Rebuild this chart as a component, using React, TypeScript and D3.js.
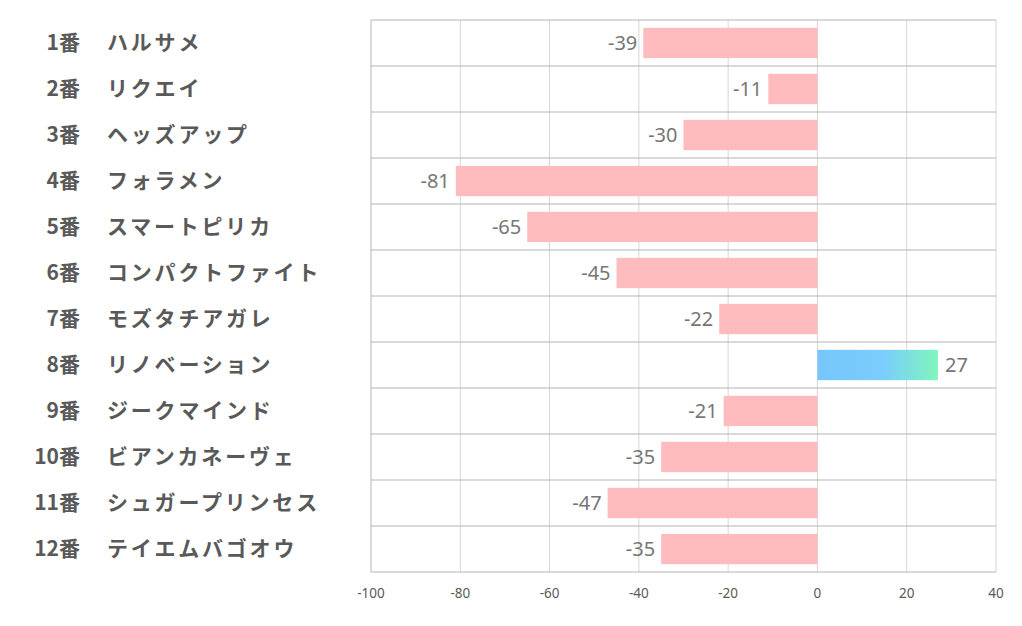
import * as d3 from 'd3';
import { useEffect, useRef } from 'react';

const numbers = ['1番', '2番', '3番', '4番', '5番', '6番', '7番', '8番', '9番', '10番', '11番', '12番'];
const names = [
  'ハルサメ',
  'リクエイ',
  'ヘッズアップ',
  'フォラメン',
  'スマートピリカ',
  'コンパクトファイト',
  'モズタチアガレ',
  'リノベーション',
  'ジークマインド',
  'ビアンカネーヴェ',
  'シュガープリンセス',
  'テイエムバゴオウ',
];
const values = [-39, -11, -30, -81, -65, -45, -22, 27, -21, -35, -47, -35];
const xTicks = [-100, -80, -60, -40, -20, 0, 20, 40];

export default function App() {
  const svgRef = useRef(null);

  useEffect(() => {
    if (!svgRef.current) return;
    const root = d3.select(svgRef.current);
    root.selectAll('*').remove();

    const width = 1022;
    const height = 626;
    const margin = { top: 20, right: 26, bottom: 54, left: 371 };
    const innerW = width - margin.left - margin.right;
    const innerH = height - margin.top - margin.bottom;

    root.attr('width', width).attr('height', height);

    const defs = root.append('defs');
    const grad = defs
      .append('linearGradient')
      .attr('id', 'posGrad')
      .attr('x1', '0%')
      .attr('x2', '100%');
    grad.append('stop').attr('offset', '0%').attr('stop-color', '#76c6fb');
    grad.append('stop').attr('offset', '55%').attr('stop-color', '#7acdfc');
    grad.append('stop').attr('offset', '100%').attr('stop-color', '#80f6bc');

    const g = root.append('g').attr('transform', `translate(${margin.left},${margin.top})`);

    const x = d3.scaleLinear().domain([-100, 40]).range([0, innerW]);
    const y = d3
      .scaleBand()
      .domain(numbers)
      .range([0, innerH])
      .paddingInner(0.34)
      .paddingOuter(0.17);

    // vertical grid
    g.selectAll('line.vgrid')
      .data(xTicks)
      .join('line')
      .attr('x1', (d) => x(d))
      .attr('x2', (d) => x(d))
      .attr('y1', 0)
      .attr('y2', innerH)
      .attr('stroke', (d) => (d === -100 ? '#b4b4b4' : '#d6d6d6'))
      .attr('stroke-width', 1);

    // row separators
    const step = innerH / numbers.length;
    g.selectAll('line.hgrid')
      .data(d3.range(numbers.length + 1))
      .join('line')
      .attr('x1', 0)
      .attr('x2', innerW)
      .attr('y1', (i) => i * step)
      .attr('y2', (i) => i * step)
      .attr('stroke', '#b4b4b4')
      .attr('stroke-width', 1);

    // bars
    g.selectAll('rect.bar')
      .data(values)
      .join('rect')
      .attr('x', (d) => x(Math.min(0, d)))
      .attr('width', (d) => Math.abs(x(d) - x(0)))
      .attr('y', (_, i) => y(numbers[i])!)
      .attr('height', y.bandwidth())
      .attr('fill', (d) => (d < 0 ? '#ffbcbe' : 'url(#posGrad)'));

    // value labels
    g.selectAll('text.val')
      .data(values)
      .join('text')
      .attr('x', (d) => (d < 0 ? x(d) - 6 : x(d) + 7))
      .attr('y', (_, i) => y(numbers[i])! + y.bandwidth() / 2)
      .attr('dy', '0.35em')
      .attr('text-anchor', (d) => (d < 0 ? 'end' : 'start'))
      .attr('font-family', '"Noto Sans", "Open Sans", sans-serif')
      .attr('font-size', 20)
      .attr('fill', '#767676')
      .text((d) => d);

    // category labels
    const labelFont = '"Noto Sans CJK JP", sans-serif';
    g.selectAll('text.num')
      .data(numbers)
      .join('text')
      .attr('x', 80 - margin.left)
      .attr('y', (d) => y(d)! + y.bandwidth() / 2)
      .attr('dy', '0.35em')
      .attr('text-anchor', 'end')
      .attr('font-family', labelFont)
      .attr('font-weight', 'bold')
      .attr('font-size', 21)
      .attr('fill', '#595959')
      .text((d) => d);

    g.selectAll('text.name')
      .data(names)
      .join('text')
      .attr('x', 107 - margin.left)
      .attr('y', (_, i) => y(numbers[i])! + y.bandwidth() / 2)
      .attr('dy', '0.35em')
      .attr('text-anchor', 'start')
      .attr('font-family', labelFont)
      .attr('font-weight', 'bold')
      .attr('font-size', 21)
      .attr('letter-spacing', 2.8)
      .attr('fill', '#595959')
      .text((d) => d);

    // x axis labels
    g.selectAll('text.tick')
      .data(xTicks)
      .join('text')
      .attr('x', (d) => x(d))
      .attr('y', innerH + 21)
      .attr('dy', '0.35em')
      .attr('text-anchor', 'middle')
      .attr('font-family', '"Noto Sans", "Open Sans", sans-serif')
      .attr('font-size', 13.5)
      .attr('fill', '#595959')
      .text((d) => d);
  }, []);

  return <svg ref={svgRef} style={{ position: 'absolute', left: 0, top: 0 }} />;
}
